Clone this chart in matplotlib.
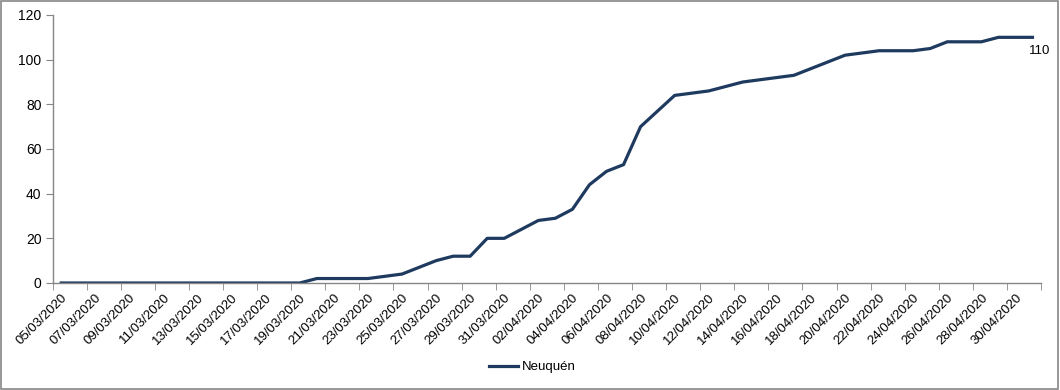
import numpy as np
import pandas as pd
import matplotlib
matplotlib.use("Agg")
import matplotlib.pyplot as pl
from matplotlib.patches import Rectangle

pl.rcParams['font.family'] = ['Liberation Sans', 'DejaVu Sans']

# datos: casos acumulados Neuquén
fechas = pd.date_range("2020-03-05", "2020-05-01", freq="D").strftime("%d/%m/%Y").tolist()
casos = [0, 0, 0, 0, 0, 0, 0, 0, 0, 0, 0, 0, 0, 0, 0,
         2, 2, 2, 2, 3, 4, 7, 10, 12, 12, 20, 20, 24, 28, 29,
         33, 44, 50, 53, 70, 77, 84, 85, 86, 88, 90, 91, 92, 93, 96,
         99, 102, 103, 104, 104, 104, 105, 108, 108, 108, 110, 110, 110]
serie = "Neuquén"

color_linea = '#1f3a5f'
gris = '#868686'

x = np.arange(len(fechas))

fig = pl.figure(figsize=(10.6, 3.9), dpi=100)
ax = fig.add_axes([52.7/1060, 1-283/390, (1041-52.7)/1060, (283-15)/390])

ln, = ax.plot(x, casos, color=color_linea, lw=2.3, label=serie, solid_joinstyle='round')

# etiqueta del último valor
ax.annotate(str(casos[-1]), (x[-1], casos[-1]), xytext=(5, -10), textcoords='offset points',
            ha='center', va='center', fontsize=9.5, color='black')

ax.set_xlim(-0.5, len(fechas)-0.5)
ax.set_ylim(0, 120)
ax.set_yticks(np.arange(0, 121, 20))

ax.set_xticks(x[::2])
ax.set_xticklabels(fechas[::2], rotation=45, ha='right', va='top', rotation_mode='anchor', fontsize=9.5)
ax.set_xticks(np.arange(-0.5, len(fechas), 2), minor=True)
ax.tick_params(axis='x', which='major', length=0, pad=6)
ax.tick_params(axis='x', which='minor', length=5, color=gris, direction='out')
ax.tick_params(axis='y', length=5, color=gris, labelsize=10, pad=3)

for s in ['top', 'right']:
    ax.spines[s].set_visible(False)
for s in ['left', 'bottom']:
    ax.spines[s].set_color(gris)
    ax.spines[s].set_linewidth(1)

fig.legend(handles=[ln], loc='center', bbox_to_anchor=(532/1060, 1-367/390), frameon=False,
           fontsize=9.5, handlelength=2.2, handletextpad=0.3)

# borde del área del gráfico
fig.patches.append(Rectangle((0.001, 0.002), 0.997, 0.995, transform=fig.transFigure,
                             fill=False, edgecolor=gris, lw=1.2))

pl.savefig("out.png", dpi=100)
pl.close()
